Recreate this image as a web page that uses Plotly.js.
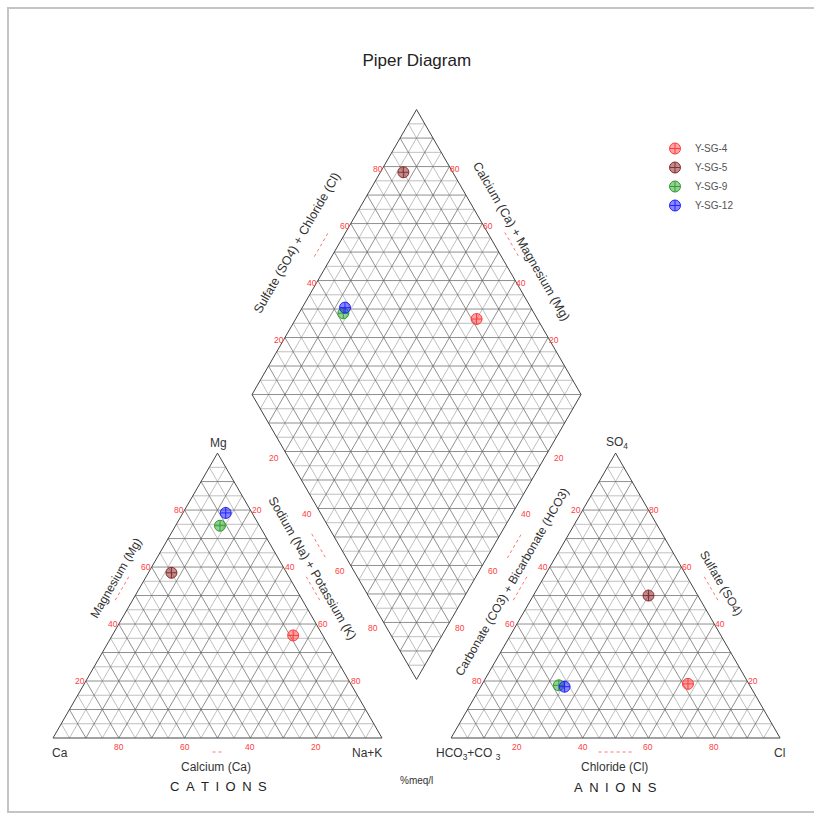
<!DOCTYPE html>
<html><head><meta charset="utf-8">
<script src="https://cdn.plot.ly/plotly-3.0.1.min.js"></script>
<style>html,body{margin:0;padding:0;background:#fff}#chart{width:814px;height:821px}</style>
</head><body><div id="chart"></div>
<script>
// ---- data (percent meq/l) ----
const samples = ['Y-SG-4', 'Y-SG-5', 'Y-SG-9', 'Y-SG-12'];
const calcium = [9, 35, 12, 8];
const magnesium = [36, 58, 74.5, 79];
const sodiumPotassium = [55, 7, 13.5, 13];
const bicarbonate = [18.5, 15, 58, 56.5];
const sulfate = [19, 50, 18.5, 18];
const chloride = [62.5, 35, 23.5, 25.5];
const tickValues = [20, 40, 60, 80];
const sampleColors = ['#ff3b3b', '#8a2e2e', '#2fa02f', '#2323ff'];
const sampleFills = ['rgba(255,90,90,0.55)', 'rgba(140,50,50,0.55)', 'rgba(60,170,60,0.55)', 'rgba(40,40,255,0.55)'];

// ---- geometry ----
const S = 100, GAP = 21, R3 = Math.sqrt(3) / 2;
const AX0 = S + GAP;
const B = [S + GAP / 2, 17.8];
const L = [B[0] - S / 2, B[1] + S * R3];
const T = [B[0], B[1] + 2 * S * R3];
const RV = [B[0] + S / 2, B[1] + S * R3];
const K = 3.29, OX = 53, OY = 738, W = 814, H = 821;
function cat(mg, na) { return [na + mg / 2, mg * R3]; }
function ani(so4, cl) { return [AX0 + cl + so4 / 2, so4 * R3]; }
function dia(n, a) {
  return [L[0] + n / 100 * (B[0] - L[0]) + a / 100 * (T[0] - L[0]),
          L[1] + n / 100 * (B[1] - L[1]) + a / 100 * (T[1] - L[1])];
}
function pxX(p) { return (p - OX) / K; }
function pxY(p) { return (OY - p) / K; }

// ---- grid ----
const major = { x: [], y: [] }, minor = { x: [], y: [] }, outline = { x: [], y: [] };
function seg(store, p, q) { store.x.push(p[0], q[0], null); store.y.push(p[1], q[1], null); }
for (let v = 5; v < 100; v += 5) {
  const st = (v % 10 === 0) ? major : minor;
  seg(st, cat(v, 0), cat(v, 100 - v));
  seg(st, cat(0, v), cat(100 - v, v));
  seg(st, cat(0, 100 - v), cat(100 - v, 0));
  seg(st, ani(v, 0), ani(v, 100 - v));
  seg(st, ani(0, v), ani(100 - v, v));
  seg(st, ani(0, 100 - v), ani(100 - v, 0));
  seg(st, dia(v, 0), dia(v, 100));
  seg(st, dia(0, v), dia(100, v));
}
for (let d = -95; d < 100; d += 5) {
  if (d === 0) { seg(major, dia(0, 0), dia(100, 100)); continue; }
  const st = (d % 10 === 0) ? major : minor;
  if (d > 0) seg(st, dia(0, d), dia(100 - d, 100));
  else seg(st, dia(-d, 0), dia(100, 100 + d));
}
function poly(store, pts) { pts.forEach(p => { store.x.push(p[0]); store.y.push(p[1]); }); store.x.push(null); store.y.push(null); }
poly(outline, [cat(0, 0), cat(0, 100), cat(100, 0), cat(0, 0)]);
poly(outline, [ani(0, 0), ani(0, 100), ani(100, 0), ani(0, 0)]);
poly(outline, [L, B, RV, T, L]);

const traces = [
  { x: minor.x, y: minor.y, mode: 'lines', line: { color: '#959595', width: 0.6 }, hoverinfo: 'skip', showlegend: false },
  { x: major.x, y: major.y, mode: 'lines', line: { color: '#606060', width: 0.7 }, hoverinfo: 'skip', showlegend: false },
  { x: outline.x, y: outline.y, mode: 'lines', line: { color: '#444', width: 1 }, hoverinfo: 'skip', showlegend: false }
];

// red dotted direction marks along edges
const marks = { x: [], y: [] };
function edgeMark(p, q, nrm, offPx, lenPx) {
  const mx = (p[0] + q[0]) / 2, my = (p[1] + q[1]) / 2;
  const dx = q[0] - p[0], dy = q[1] - p[1], dl = Math.hypot(dx, dy);
  const ux = dx / dl, uy = dy / dl, o = offPx / K, h = lenPx / K / 2;
  seg(marks, [mx + nrm[0] * o - ux * h, my + nrm[1] * o - uy * h], [mx + nrm[0] * o + ux * h, my + nrm[1] * o + uy * h]);
}
edgeMark(cat(0, 0), cat(100, 0), [-R3, 0.5], 15, 28);
edgeMark(cat(0, 100), cat(100, 0), [R3, 0.5], 15, 28);
edgeMark(cat(0, 0), cat(0, 100), [0, -1], 14, 10);
edgeMark(ani(0, 0), ani(100, 0), [-R3, 0.5], 15, 28);
edgeMark(ani(0, 100), ani(100, 0), [R3, 0.5], 15, 28);
edgeMark(ani(0, 0), ani(0, 100), [0, -1], 14, 34);
edgeMark(L, T, [-R3, 0.5], 15, 28);
edgeMark(T, RV, [R3, 0.5], 15, 28);
edgeMark(L, B, [-R3, -0.5], 18, 28);
edgeMark(B, RV, [R3, -0.5], 18, 28);
traces.push({ x: marks.x, y: marks.y, mode: 'lines', line: { color: '#ff5050', width: 0.8, dash: 'dot' }, hoverinfo: 'skip', showlegend: false });

// samples
samples.forEach((name, i) => {
  const pc = cat(magnesium[i], sodiumPotassium[i]);
  const pa = ani(sulfate[i], chloride[i]);
  const pd = dia(sodiumPotassium[i], sulfate[i] + chloride[i]);
  traces.push({
    x: [pc[0], pa[0], pd[0]], y: [pc[1], pa[1], pd[1]], mode: 'markers', name: name,
    marker: { symbol: 'circle-cross', size: 11, color: sampleFills[i], line: { color: sampleColors[i], width: 1 } }
  });
});

// ---- annotations ----
const ann = [];
const FONT = 'Arial, "Liberation Sans", sans-serif';
function txt(x, y, text, o) {
  o = o || {};
  ann.push({ x: x, y: y, xref: 'x', yref: 'y', text: text, showarrow: false,
    xshift: o.xs || 0, yshift: o.ys || 0, textangle: o.angle || 0,
    font: { family: FONT, size: o.size || 11, color: o.color || '#333' } });
}
const RED = '#ff4040';
const TS = 8.5;
tickValues.forEach(v => {
  let p;
  p = cat(0, 100 - v); txt(p[0], p[1], String(v), { ys: -9, size: TS, color: RED });
  p = cat(v, 0); txt(p[0], p[1], String(v), { xs: -6, size: TS, color: RED });
  p = cat(100 - v, v); txt(p[0], p[1], String(v), { xs: 7, size: TS, color: RED });
  p = ani(0, v); txt(p[0], p[1], String(v), { ys: -9, size: TS, color: RED });
  p = ani(100 - v, 0); txt(p[0], p[1], String(v), { xs: -7, size: TS, color: RED });
  p = ani(v, 100 - v); txt(p[0], p[1], String(v), { xs: 6, size: TS, color: RED });
  p = dia(0, v); txt(p[0], p[1], String(v), { xs: -6, ys: -2, size: TS, color: RED });
  p = dia(100 - v, 100); txt(p[0], p[1], String(v), { xs: 6, ys: -2, size: TS, color: RED });
  p = dia(v, 0); txt(p[0], p[1], String(v), { xs: -11, ys: -6, size: TS, color: RED });
  p = dia(100, 100 - v); txt(p[0], p[1], String(v), { xs: 11, ys: -6, size: TS, color: RED });
});

function ptxt(px, py, text, o) { txt(pxX(px), pxY(py), text, o); }
ptxt(218, 443, 'Mg', { size: 12 });
ptxt(60, 753, 'Ca', { size: 12 });
ptxt(367, 753, 'Na+K', { size: 12 });
ptxt(617, 443, 'SO<sub>4</sub>', { size: 12 });
ptxt(779, 753, 'Cl', { size: 12 });
ptxt(468, 754, 'HCO<sub>3</sub>+CO <sub>3</sub>', { size: 12 });
ptxt(216, 767, 'Calcium (Ca)', { size: 12 });
ptxt(614, 767, 'Chloride (Cl)', { size: 12 });
ptxt(218, 786, 'C\u2002A\u2002T\u2002I\u2002O\u2002N\u2002S', { size: 13, color: '#222' });
ptxt(615, 787, 'A\u2002N\u2002I\u2002O\u2002N\u2002S', { size: 13, color: '#222' });
ptxt(416, 780, '%meq/l', { size: 10 });
ptxt(116, 578, 'Magnesium (Mg)', { size: 12, angle: -60 });
ptxt(312, 568, 'Sodium (Na) + Potassium (K)', { size: 12.5, angle: 60 });
ptxt(512, 582, 'Carbonate (CO3) + Bicarbonate (HCO3)', { size: 12, angle: -60 });
ptxt(721, 583, 'Sulfate (SO4)', { size: 12, angle: 60 });
ptxt(297, 243, 'Sulfate (SO4) + Chloride (Cl)', { size: 12.5, angle: -60 });
ptxt(521, 241, 'Calcium (Ca) + Magnesium (Mg)', { size: 12.5, angle: 60 });

const layout = {
  width: W, height: H, margin: { l: 0, r: 0, t: 0, b: 0 },
  paper_bgcolor: '#fff', plot_bgcolor: '#fff',
  title: { text: 'Piper Diagram', x: 0.512, xanchor: 'center', y: 1 - 60 / H, yanchor: 'middle', font: { family: FONT, size: 17, color: '#222' } },
  xaxis: { range: [pxX(0), pxX(W)], visible: false, fixedrange: true },
  yaxis: { range: [pxY(H), pxY(0)], visible: false, fixedrange: true },
  showlegend: true,
  legend: { x: 655 / W, xanchor: 'left', y: 1 - 134 / H, yanchor: 'top', bgcolor: 'rgba(0,0,0,0)',
    font: { family: FONT, size: 10, color: '#555' }, tracegroupgap: 0 },
  annotations: ann,
  shapes: [{ type: 'rect', xref: 'paper', yref: 'paper', x0: 8 / W, x1: 1.2, y0: 1 - 812 / H, y1: 1 - 8 / H,
    line: { color: '#c4c4c4', width: 2 } }]
};
Plotly.newPlot('chart', traces, layout, { displayModeBar: false, staticPlot: true });
</script></body></html>
